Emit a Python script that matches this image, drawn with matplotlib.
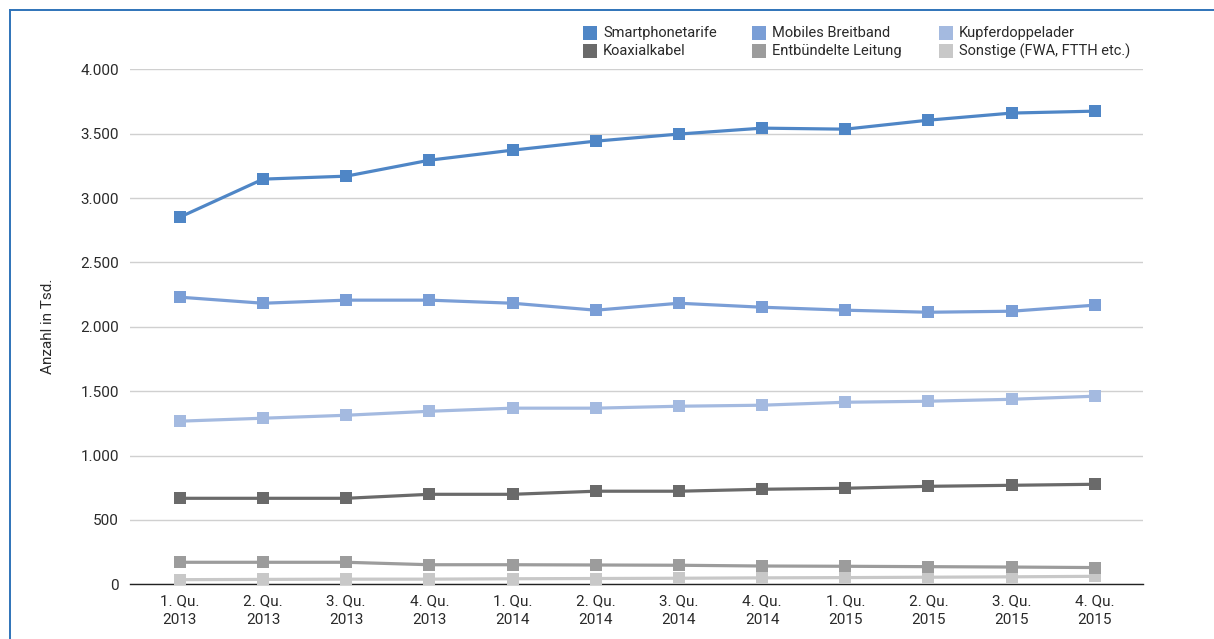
import matplotlib
matplotlib.use("Agg")
import matplotlib.pyplot as plt
from matplotlib.lines import Line2D
from matplotlib.patches import Rectangle
from matplotlib.ticker import FuncFormatter, FixedLocator

plt.rcParams['font.family'] = ['Roboto', 'DejaVu Sans']

categories = ["1. Qu.\n2013", "2. Qu.\n2013", "3. Qu.\n2013", "4. Qu.\n2013",
              "1. Qu.\n2014", "2. Qu.\n2014", "3. Qu.\n2014", "4. Qu.\n2014",
              "1. Qu.\n2015", "2. Qu.\n2015", "3. Qu.\n2015", "4. Qu.\n2015"]

smartphonetarife = [2852, 3147, 3170, 3294, 3372, 3442, 3497, 3543, 3535, 3605, 3660, 3675]
mobiles_breitband = [2230, 2183, 2207, 2207, 2183, 2129, 2183, 2152, 2129, 2113, 2121, 2168]
kupferdoppelader = [1267, 1290, 1313, 1344, 1368, 1368, 1383, 1391, 1414, 1422, 1437, 1461]
koaxialkabel = [668, 668, 668, 699, 699, 723, 723, 738, 746, 761, 769, 777]
entbuendelte = [171, 171, 171, 152, 152, 150, 148, 142, 140, 137, 134, 130]
sonstige = [36, 38, 40, 40, 43, 45, 47, 50, 52, 55, 58, 62]

series_names = ["Smartphonetarife", "Mobiles Breitband", "Kupferdoppelader",
                "Koaxialkabel", "Entbündelte Leitung", "Sonstige (FWA, FTTH etc.)"]
series_data = [smartphonetarife, mobiles_breitband, kupferdoppelader,
               koaxialkabel, entbuendelte, sonstige]
colors = ["#4F86C6", "#7A9ED6", "#A4BAE0", "#6A6A6A", "#9C9C9C", "#C8C8C8"]

y_ticks = [0, 500, 1000, 1500, 2000, 2500, 3000, 3500, 4000]

W, H = 1214, 639
fig = plt.figure(figsize=(W / 100, H / 100), dpi=100)
ax = fig.add_axes([130/W, 1-584.3/H, (1143-130)/W, (584.3-69.3)/H])

x = list(range(len(categories)))
order = [5, 4, 3, 2, 1, 0]
for i in order:
    ax.plot(x, series_data[i], color=colors[i], lw=2.3, marker='s',
            markersize=8.8, markeredgewidth=0, zorder=3 + (5 - i) * 0.1)

ax.set_xlim(-0.6, 11.58)
ax.set_ylim(0, 4000)
ax.yaxis.set_major_locator(FixedLocator(y_ticks))
ax.yaxis.set_major_formatter(FuncFormatter(lambda v, p: f"{int(v):,}".replace(",", ".")))
ax.set_xticks(x)
ax.set_xticklabels(categories, fontsize=11, color="#2A2A2A", linespacing=1.45)
ax.tick_params(axis='y', labelsize=11, colors="#2A2A2A", length=0, pad=8)
ax.tick_params(axis='x', length=0, pad=7)
ax.grid(axis='y', color="#D0D0D0", lw=1.0, zorder=0)
ax.set_axisbelow(True)
for s in ['top', 'right', 'left']:
    ax.spines[s].set_visible(False)
ax.spines['bottom'].set_color("#222222")
ax.spines['bottom'].set_linewidth(1.0)
ax.spines['bottom'].set_zorder(2)

fig.text(48/W, 1-326/H, "Anzahl in Tsd.", rotation=90, fontsize=11,
         color="#2A2A2A", ha='center', va='center')

# legend laid out manually: 3 columns x 2 rows
col_x = [583, 752, 939]
row_y = [33, 51]
for i, name in enumerate(series_names):
    c, r = i % 3, i // 3
    fig.add_artist(Rectangle(((col_x[c]) / W, 1 - (row_y[r] + 7) / H), 14 / W, 14 / H,
                             transform=fig.transFigure, color=colors[i], lw=0))
    fig.text((col_x[c] + 20) / W, 1 - row_y[r] / H, name, fontsize=10.5,
             color="#2A2A2A", ha='left', va='center')

# figure frame (top and left blue border)
fig.add_artist(Line2D([9.5/W, 9.5/W], [0, 1-10/H], transform=fig.transFigure,
                      color="#2F73B9", lw=1.4))
fig.add_artist(Line2D([9.5/W, 1], [1-10/H, 1-10/H], transform=fig.transFigure,
                      color="#2F73B9", lw=1.4))

fig.savefig("out.png", dpi=100)
